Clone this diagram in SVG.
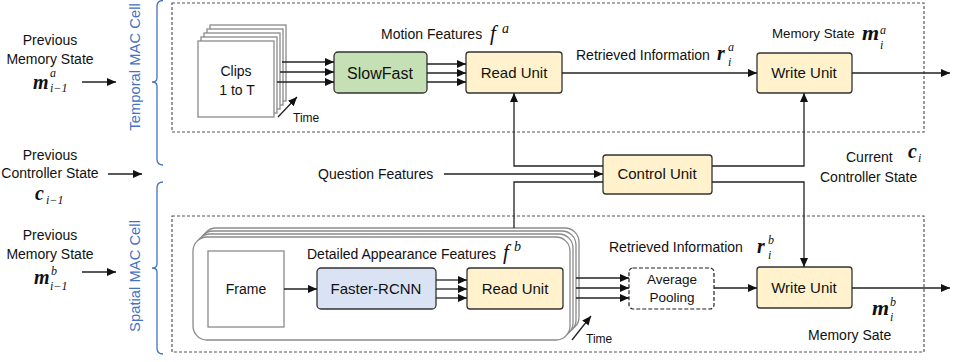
<svg xmlns="http://www.w3.org/2000/svg" width="965" height="362" viewBox="0 0 965 362">
<style>
text{font-family:"Liberation Sans",Arial,sans-serif;fill:#111;}
.lbl{font-size:14px;}
.ctr{text-anchor:middle;}
.unit{font-size:15px;text-anchor:middle;}
.small{font-size:12px;}
.blue{font-size:14.8px;fill:#4472c4;text-anchor:middle;}
.math{font-family:"Liberation Serif","Times New Roman",serif;font-style:italic;}
.m{font-weight:bold;font-size:20px;}
.mb{font-weight:bold;font-size:22px;}
.s{font-weight:normal;font-size:12px;}
.f{font-weight:normal;font-size:21px;}
.dash{fill:none;stroke:#555;stroke-width:1.2;stroke-dasharray:3 2;}
.brace{fill:none;stroke:#4472c4;stroke-width:1.3;}
.box{stroke:#333;stroke-width:1.3;}
.yel{fill:#fff2cc;}
.grn{fill:#c5e0b4;}
.blu{fill:#dae3f3;}
.layer{fill:#fff;stroke:#8a8a8a;stroke-width:1.3;}
.con{fill:none;stroke:#222;stroke-width:1.3;}
.arr{marker-end:url(#ah);}
</style>
<defs>
<marker id="ah" markerUnits="userSpaceOnUse" markerWidth="9" markerHeight="8" refX="9" refY="4" orient="auto">
<path d="M0,0 L9,4 L0,8 z" fill="#111"/>
</marker>
</defs>
<rect width="965" height="362" fill="#fff"/>

<g id="cells">
<rect class="dash" x="172" y="3" width="752" height="129"/>
<rect class="dash" x="172" y="216" width="752" height="136"/>
<path class="brace" d="M163,0.5 Q157,0.5 157,6 L157,78 Q157,82 152,82 Q157,82 157,86 L157,159 Q157,165 163,165"/>
<path class="brace" d="M163,182 Q157,182 157,188 L157,264 Q157,268 152,268 Q157,268 157,272 L157,348 Q157,354 163,354"/>
<text class="blue" transform="translate(140,67) rotate(-90)">Temporal MAC Cell</text>
<text class="blue" transform="translate(140,276) rotate(-90)">Spatial MAC Cell</text>
</g>

<g id="prev-mem-a">
<text class="lbl ctr" x="50" y="45">Previous</text>
<text class="lbl ctr" x="50" y="64">Memory State</text>
<text class="math"><tspan class="m" x="33" y="89">m</tspan><tspan class="s" x="50" y="77">a</tspan><tspan class="s" x="50" y="92">i−1</tspan></text>
</g>

<g id="prev-ctrl">
<text class="lbl ctr" x="50" y="160">Previous</text>
<text class="lbl ctr" x="50" y="178">Controller State</text>
<text class="math"><tspan class="m" x="35" y="200">c</tspan><tspan class="s" x="46" y="204">i−1</tspan></text>
</g>

<g id="prev-mem-b">
<text class="lbl ctr" x="50" y="240">Previous</text>
<text class="lbl ctr" x="50" y="259">Memory State</text>
<text class="math"><tspan class="m" x="34" y="284">m</tspan><tspan class="s" x="51" y="275">b</tspan><tspan class="s" x="50" y="290">i−1</tspan></text>
</g>

<g id="clips">
<rect class="layer" x="210" y="25" width="76" height="76"/>
<rect class="layer" x="207" y="29" width="76" height="76"/>
<rect class="layer" x="204" y="33" width="76" height="76"/>
<rect class="layer" x="201" y="37" width="76" height="76"/>
<rect class="layer" x="198" y="41" width="76" height="76"/>
<text class="lbl ctr" x="236" y="76">Clips</text>
<text class="lbl ctr" x="237" y="95">1 to T</text>
<text class="small" x="293" y="122">Time</text>
</g>

<g id="slowfast">
<rect class="box grn" x="334" y="52" width="93" height="41" rx="4"/>
<text class="unit" x="380" y="79" style="font-size:16px">SlowFast</text>
</g>

<g id="motion-label">
<text class="lbl" x="381" y="39">Motion Features</text>
<text class="math"><tspan class="f" x="490" y="40">f</tspan><tspan class="s" x="502" y="33" style="font-size:14px">a</tspan></text>
</g>

<g id="read-a">
<rect class="box yel" x="466" y="52" width="96" height="41" rx="3"/>
<text class="unit" x="514" y="78">Read Unit</text>
</g>

<g id="retr-a">
<text class="lbl" x="576" y="60">Retrieved Information</text>
<text class="math"><tspan class="m" x="717" y="60">r</tspan><tspan class="s" x="728" y="51">a</tspan><tspan class="s" x="728" y="66">i</tspan></text>
</g>

<g id="write-a">
<rect class="box yel" x="757" y="53" width="95" height="40" rx="3"/>
<text class="unit" x="804" y="78">Write Unit</text>
</g>

<g id="mem-a">
<text class="lbl" x="772" y="38" style="font-size:13.3px">Memory State</text>
<text class="math"><tspan class="mb" x="862" y="40">m</tspan><tspan class="s" x="880" y="34">a</tspan><tspan class="s" x="880" y="49">i</tspan></text>
</g>

<g id="question">
<text class="lbl" x="318" y="179">Question Features</text>
</g>

<g id="control">
<rect class="box yel" x="603" y="155" width="109" height="39" rx="3"/>
<text class="unit" x="657" y="179">Control Unit</text>
</g>

<g id="current">
<text class="lbl" x="846" y="162">Current</text>
<text class="math"><tspan class="m" x="908" y="158">c</tspan><tspan class="s" x="918" y="162">i</tspan></text>
<text class="lbl" x="820" y="182">Controller State</text>
</g>

<g id="frames">
<rect class="layer" x="202" y="228" width="377" height="103" rx="14"/>
<rect class="layer" x="199" y="231" width="377" height="103" rx="14"/>
<rect class="layer" x="196" y="234" width="377" height="103" rx="14"/>
<rect class="layer" x="193" y="237" width="377" height="103" rx="14"/>
<text class="small" x="586" y="343">Time</text>
</g>

<g id="frame">
<rect x="208" y="251" width="76" height="76" fill="#fff" stroke="#8a8a8a" stroke-width="1.3"/>
<text class="lbl ctr" x="246" y="294">Frame</text>
</g>

<g id="appearance-label">
<text class="lbl" x="307" y="259">Detailed Appearance Features</text>
<text class="math"><tspan class="f" x="503" y="259">f</tspan><tspan class="s" x="514" y="251" style="font-size:14px">b</tspan></text>
</g>

<g id="faster">
<rect class="box blu" x="317" y="268" width="119" height="41" rx="4"/>
<text class="unit" x="376" y="294">Faster-RCNN</text>
</g>

<g id="read-b">
<rect class="box yel" x="467" y="268" width="96" height="41" rx="3"/>
<text class="unit" x="515" y="294">Read Unit</text>
</g>

<g id="retr-b">
<text class="lbl" x="609" y="252">Retrieved Information</text>
<text class="math"><tspan class="m" x="757" y="253">r</tspan><tspan class="s" x="768" y="244">b</tspan><tspan class="s" x="768" y="259">i</tspan></text>
</g>

<g id="avgpool">
<rect x="629" y="268" width="85" height="41" rx="4" fill="#fff" stroke="#222" stroke-width="1.2" stroke-dasharray="4 2"/>
<text class="lbl ctr" x="672" y="284" style="font-size:13.5px">Average</text>
<text class="lbl ctr" x="672" y="302" style="font-size:13.5px">Pooling</text>
</g>

<g id="write-b">
<rect class="box yel" x="757" y="267" width="95" height="41" rx="3"/>
<text class="unit" x="804" y="293">Write Unit</text>
</g>

<g id="mem-b">
<text class="math"><tspan class="mb" x="872" y="315">m</tspan><tspan class="s" x="890" y="306">b</tspan><tspan class="s" x="890" y="321">i</tspan></text>
<text class="lbl" x="808" y="340">Memory Sate</text>
</g>

<g id="connectors">
<line class="con arr" x1="82" y1="82" x2="116" y2="82"/>
<line class="con arr" x1="108" y1="174" x2="142" y2="174"/>
<line class="con arr" x1="82" y1="272" x2="116" y2="272"/>
<line class="con arr" x1="282" y1="62" x2="334" y2="62"/>
<line class="con arr" x1="280" y1="72" x2="334" y2="72"/>
<line class="con arr" x1="277" y1="82" x2="334" y2="82"/>
<line class="con arr" x1="278" y1="117" x2="297" y2="97"/>
<line class="con arr" x1="427" y1="64" x2="466" y2="64"/>
<line class="con arr" x1="427" y1="73" x2="466" y2="73"/>
<line class="con arr" x1="427" y1="82" x2="466" y2="82"/>
<line class="con arr" x1="562" y1="73" x2="757" y2="73"/>
<line class="con arr" x1="852" y1="73" x2="950" y2="73"/>
<path class="con arr" d="M603,166 H514 V93"/>
<path class="con arr" d="M712,166 H804 V93"/>
<line class="con arr" x1="444" y1="174" x2="603" y2="174"/>
<path class="con" d="M603,182 H514 V228"/>
<path class="con arr" d="M712,182 H804 V267"/>
<line class="con arr" x1="284" y1="289" x2="317" y2="289"/>
<line class="con arr" x1="436" y1="280" x2="467" y2="280"/>
<line class="con arr" x1="436" y1="289" x2="467" y2="289"/>
<line class="con arr" x1="436" y1="298" x2="467" y2="298"/>
<line class="con arr" x1="576" y1="278" x2="629" y2="278"/>
<line class="con arr" x1="576" y1="288" x2="629" y2="288"/>
<line class="con arr" x1="576" y1="298" x2="629" y2="298"/>
<line class="con arr" x1="572" y1="340" x2="591" y2="316"/>
<line class="con arr" x1="714" y1="288" x2="757" y2="288"/>
<line class="con arr" x1="852" y1="288" x2="950" y2="288"/>
</g>
</svg>
